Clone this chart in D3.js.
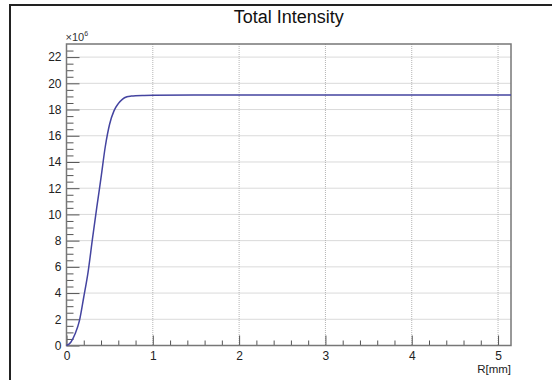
<!DOCTYPE html>
<html>
<head>
<meta charset="utf-8">
<script src="https://cdn.jsdelivr.net/npm/d3@7"></script>
<style>
  body { margin: 0; background: #fff; }
  svg { display: block; font-family: "Liberation Sans", Arial, Helvetica, sans-serif; }
</style>
</head>
<body>
<svg></svg>
<script>
var width = 552;
var height = 380;

// radius in mm
var radius = [0, 0.05, 0.1, 0.15, 0.2, 0.25, 0.3, 0.35, 0.4, 0.45, 0.5, 0.55, 0.6, 0.65, 0.7, 0.75, 0.8, 0.9, 1.0, 1.5, 2, 3, 4, 5, 5.15];
// integrated intensity, in units of 1e6
var intensity = [0, 0.25, 0.9, 1.9, 3.7, 5.6, 8.1, 10.5, 12.8, 15.2, 16.9, 17.9, 18.45, 18.8, 18.97, 19.03, 19.06, 19.08, 19.09, 19.1, 19.1, 19.1, 19.1, 19.1, 19.1];

var xTicks = [0, 1, 2, 3, 4, 5];
var yTicks = [0, 2, 4, 6, 8, 10, 12, 14, 16, 18, 20, 22];

var plot = {left: 66.5, right: 511, top: 44, bottom: 345.5};

var svg = d3.select('svg')
    .attr('width', width)
    .attr('height', height);

// canvas frame
svg.append('rect')
    .attr('x', 10)
    .attr('y', 5)
    .attr('width', 560)
    .attr('height', 400)
    .attr('fill', 'none')
    .attr('stroke', '#222')
    .attr('stroke-width', 2);

var xScale = d3.scaleLinear()
    .domain([0, 5.15])
    .range([plot.left, plot.right]);

var yScale = d3.scaleLinear()
    .domain([0, 23])
    .range([plot.bottom, plot.top]);

// grid
svg.append('g')
    .selectAll('line')
    .data(xTicks.slice(1))
    .enter()
    .append('line')
        .attr('x1', d => xScale(d))
        .attr('x2', d => xScale(d))
        .attr('y1', plot.top)
        .attr('y2', plot.bottom)
        .attr('stroke', '#b4b4b4')
        .attr('stroke-dasharray', '1,1');

svg.append('g')
    .selectAll('line')
    .data(yTicks.slice(1))
    .enter()
    .append('line')
        .attr('x1', plot.left)
        .attr('x2', plot.right)
        .attr('y1', d => yScale(d))
        .attr('y2', d => yScale(d))
        .attr('stroke', '#b4b4b4')
        .attr('stroke-dasharray', '1,1');

// x axis, ticks pointing up
var xMinor = d3.range(0, 5.15, 0.2).filter(v => Math.abs(v - Math.round(v)) > 1e-6);
var xAxis = svg.append('g')
    .attr('transform', 'translate(0,' + plot.bottom + ')');
xAxis.append('g')
    .call(d3.axisBottom(xScale).tickValues(xMinor).tickSize(-5).tickFormat(''))
    .call(g => g.select('.domain').remove());
xAxis.append('g')
    .call(d3.axisBottom(xScale).tickValues(xTicks).tickSize(-10).tickPadding(14).tickFormat(d3.format('d')))
    .call(g => g.select('.domain').remove())
    .call(g => g.selectAll('text').attr('dy', '0'));
xAxis.selectAll('line').attr('stroke', '#555');
xAxis.selectAll('text')
    .attr('font-size', 12)
    .attr('font-family', '"Liberation Sans", Arial, sans-serif')
    .attr('fill', '#222');

// y axis, ticks pointing right
var yMinor = d3.range(0, 23, 0.5).filter(v => v % 2 !== 0);
var yAxis = svg.append('g')
    .attr('transform', 'translate(' + plot.left + ',0)');
yAxis.append('g')
    .call(d3.axisLeft(yScale).tickValues(yMinor).tickSize(-7).tickFormat(''))
    .call(g => g.select('.domain').remove());
yAxis.append('g')
    .call(d3.axisLeft(yScale).tickValues(yTicks).tickSize(-13).tickPadding(5).tickFormat(d3.format('d')))
    .call(g => g.select('.domain').remove())
    .call(g => g.selectAll('text').attr('x', -5));
yAxis.selectAll('line').attr('stroke', '#555');
yAxis.selectAll('text')
    .attr('font-size', 12)
    .attr('font-family', '"Liberation Sans", Arial, sans-serif')
    .attr('fill', '#222');

// plot frame
svg.append('rect')
    .attr('x', plot.left)
    .attr('y', plot.top)
    .attr('width', plot.right - plot.left)
    .attr('height', plot.bottom - plot.top)
    .attr('fill', 'none')
    .attr('stroke', '#777')
    .attr('stroke-width', 1.5);

// curve
var points = radius.map((r, i) => [r, intensity[i]]);
var line = d3.line()
    .x(d => xScale(d[0]))
    .y(d => yScale(d[1]))
    .curve(d3.curveMonotoneX);

svg.append('path')
    .datum(points)
    .attr('d', line)
    .attr('fill', 'none')
    .attr('stroke', '#4444a0')
    .attr('stroke-width', 1.5);

// title
svg.append('text')
    .text('Total Intensity')
    .attr('x', (plot.left + plot.right) / 2)
    .attr('y', 23)
    .attr('text-anchor', 'middle')
    .attr('font-size', 18)
    .attr('fill', '#111');

// exponent label
var expo = svg.append('text')
    .attr('x', plot.left - 1)
    .attr('y', 41)
    .attr('font-size', 11)
    .attr('fill', '#333');
expo.append('tspan').text('\u00d710');
expo.append('tspan').text('6').attr('font-size', 7).attr('dy', -5);

// x axis title
svg.append('text')
    .text('R[mm]')
    .attr('x', plot.right)
    .attr('y', 373)
    .attr('text-anchor', 'end')
    .attr('font-size', 11.5)
    .attr('fill', '#222');
</script>
</body>
</html>
